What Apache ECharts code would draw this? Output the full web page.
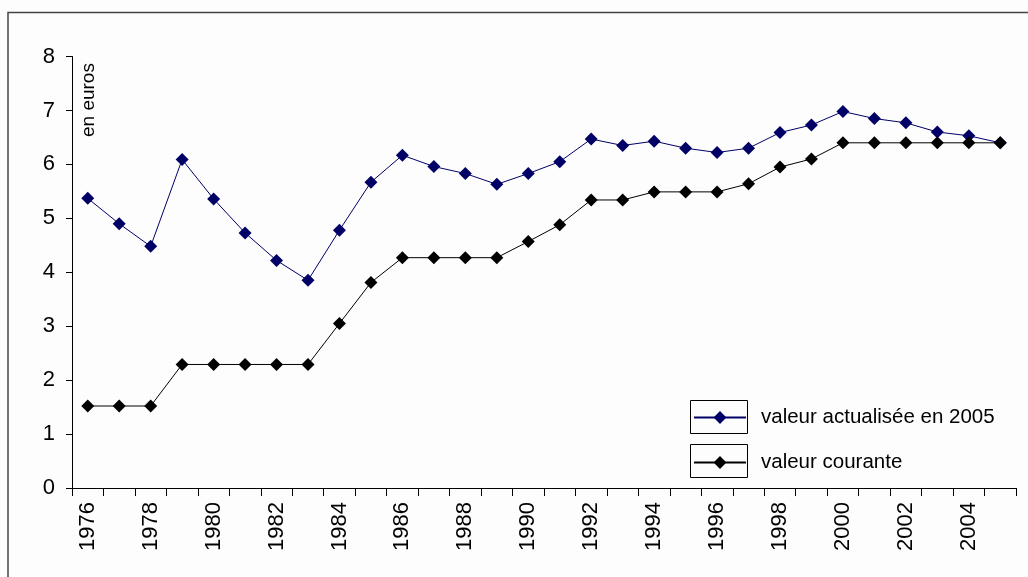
<!DOCTYPE html>
<html>
<head>
<meta charset="utf-8">
<script src="https://cdn.jsdelivr.net/npm/echarts@6/dist/echarts.min.js"></script>
<style>
  html, body { margin: 0; padding: 0; background: #fdfdfd; }
  #chart { width: 1028px; height: 577px; }
</style>
</head>
<body>
<div id="chart"></div>
<script>
// Years on the horizontal axis
const years = [];
for (let y = 1976; y <= 2005; y++) years.push(String(y));

// Value expressed in 2005 euros
const valeurActualisee = [5.37, 4.90, 4.48, 6.09, 5.36, 4.73, 4.22, 3.85, 4.78, 5.67,
                          6.17, 5.96, 5.83, 5.63, 5.83, 6.05, 6.47, 6.35, 6.43, 6.30,
                          6.22, 6.30, 6.59, 6.73, 6.98, 6.85, 6.77, 6.60, 6.53, 6.40];

// Nominal value of the year
const valeurCourante = [1.52, 1.52, 1.52, 2.29, 2.29, 2.29, 2.29, 2.29, 3.05, 3.81,
                        4.27, 4.27, 4.27, 4.27, 4.57, 4.88, 5.34, 5.34, 5.49, 5.49,
                        5.49, 5.64, 5.95, 6.10, 6.40, 6.40, 6.40, 6.40, 6.40, 6.40];

const seriesNames = ['valeur actualisée en 2005', 'valeur courante'];
const unitLabel = 'en euros';

const FONT = '"Liberation Sans", Arial, sans-serif';

const chart = echarts.init(document.getElementById('chart'), null, { renderer: 'canvas' });

chart.setOption({
  animation: false,
  backgroundColor: '#fdfdfd',
  grid: { left: 72, right: 12, top: 56.5, bottom: 89, containLabel: false },
  xAxis: {
    type: 'category',
    data: years,
    boundaryGap: true,
    axisLine: { lineStyle: { color: '#000', width: 1 } },
    axisTick: { show: true, interval: 0, length: 8, lineStyle: { color: '#000' } },
    axisLabel: {
      interval: 1,
      rotate: 90,
      margin: 14,
      color: '#000',
      fontFamily: FONT,
      fontSize: 22
    },
    splitLine: { show: false }
  },
  yAxis: {
    type: 'value',
    min: 0,
    max: 8,
    interval: 1,
    axisLine: { show: true, lineStyle: { color: '#000', width: 1 } },
    axisTick: { show: true, length: 6, lineStyle: { color: '#000' } },
    axisLabel: {
      margin: 17,
      color: '#000',
      fontFamily: FONT,
      fontSize: 22
    },
    splitLine: { show: false }
  },
  legend: {
    orient: 'vertical',
    left: 693,
    top: 407,
    padding: 0,
    itemWidth: 52,
    itemHeight: 16,
    itemGap: 24,
    data: seriesNames,
    textStyle: {
      color: '#000',
      fontFamily: FONT,
      fontSize: 20.5,
      lineHeight: 16,
      padding: [0, 0, 0, 10]
    }
  },
  graphic: [
    // frame around the figure
    {
      type: 'rect',
      shape: { x: 8, y: 12.5, width: 1030, height: 580 },
      style: { fill: null, stroke: '#444', lineWidth: 1.5 },
      silent: true
    },
    // boxes around the legend keys
    {
      type: 'rect',
      shape: { x: 690.5, y: 400.5, width: 57, height: 33 },
      style: { fill: null, stroke: '#000', lineWidth: 1 },
      silent: true
    },
    {
      type: 'rect',
      shape: { x: 690.5, y: 444.5, width: 57, height: 33 },
      style: { fill: null, stroke: '#000', lineWidth: 1 },
      silent: true
    },
    // unit label along the value axis
    {
      type: 'text',
      x: 98,
      y: 137,
      rotation: Math.PI / 2,
      style: {
        text: unitLabel,
        fill: '#000',
        font: '19px ' + FONT,
        textAlign: 'left',
        textVerticalAlign: 'bottom'
      },
      silent: true
    }
  ],
  series: [
    {
      name: seriesNames[0],
      type: 'line',
      data: valeurActualisee,
      symbol: 'diamond',
      symbolSize: 13,
      lineStyle: { color: '#000066', width: 1 },
      itemStyle: { color: '#000066' }
    },
    {
      name: seriesNames[1],
      type: 'line',
      data: valeurCourante,
      symbol: 'diamond',
      symbolSize: 13,
      lineStyle: { color: '#000', width: 1 },
      itemStyle: { color: '#000' }
    }
  ]
});
</script>
</body>
</html>
